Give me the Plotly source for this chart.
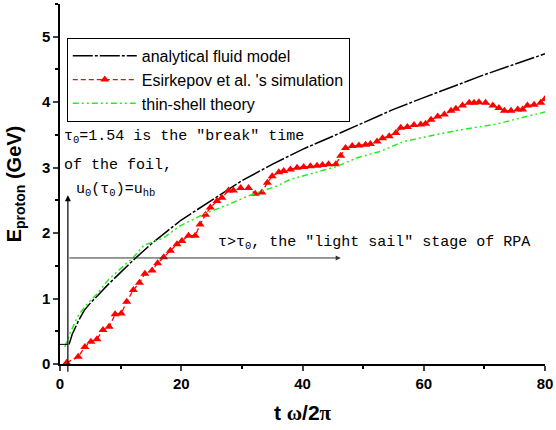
import plotly.graph_objects as go

# analytical fluid model
fluid_x = [1.5, 2, 3, 4, 5, 6, 8, 10, 12, 15, 20, 25, 30, 35, 40, 45, 50, 55, 60, 65, 70, 75, 80]
fluid_y = [0.30, 0.45, 0.65, 0.82, 0.93, 1.03, 1.22, 1.40, 1.58, 1.83, 2.20, 2.50, 2.80, 3.05, 3.28, 3.48, 3.69, 3.89, 4.07, 4.25, 4.42, 4.58, 4.74]

# Esirkepov et al.'s simulation
sim_x = [1.1, 3.0, 4.1, 5.1, 6.1, 7.1, 8.1, 9.1, 10.1, 11.0, 12.1, 13.1, 14.0, 15.2, 16.1, 17.1,
         18.2, 19.3, 20.1, 21.2, 22.3, 23.1, 24.0, 24.8, 25.9, 26.7, 27.8, 28.6, 29.8, 31.1, 32.2,
         33.3, 34.2, 35.0, 36.1, 36.9, 38.0, 39.1, 40.2, 41.3, 42.4, 43.3, 44.3, 45.5, 46.3, 47.1,
         48.2, 49.3, 50.4, 51.2, 52.3, 53.2, 54.3, 55.4, 56.2, 57.3, 58.4, 59.5, 60.3, 61.2, 62.3,
         63.4, 64.5, 65.3, 66.4, 67.5, 68.3, 69.1, 70.2, 71.4, 72.4, 73.3, 74.4, 75.5, 76.3, 77.1,
         78.2, 79.3, 80.0]
sim_y = [0.02, 0.11, 0.26, 0.34, 0.38, 0.52, 0.57, 0.76, 0.77, 0.95, 1.13, 1.24, 1.38, 1.43, 1.54, 1.63,
         1.73, 1.83, 1.88, 1.96, 1.96, 2.13, 2.28, 2.39, 2.49, 2.54, 2.65, 2.65, 2.69, 2.69, 2.60,
         2.62, 2.77, 2.87, 2.93, 2.95, 2.97, 3.00, 3.01, 3.02, 3.03, 3.04, 3.05, 3.05, 3.18, 3.30,
         3.33, 3.34, 3.35, 3.36, 3.40, 3.45, 3.48, 3.53, 3.61, 3.62, 3.65, 3.66, 3.67, 3.73, 3.78,
         3.81, 3.87, 3.90, 3.95, 3.99, 3.99, 4.00, 3.99, 3.95, 3.91, 3.87, 3.87, 3.89, 3.89, 3.95,
         3.96, 3.99, 4.05]

# thin-shell theory
shell_x = [0.8, 1.65, 3.0, 4.5, 6.1, 8.0, 9.9, 12.1, 13.8, 17.1, 19.8, 23.7, 27.6, 31.1, 35.8, 38.0,
           41.9, 45.7, 49.0, 52.9, 56.7, 60.6, 65.0, 68.9, 72.2, 76.0, 80.0]
shell_y = [0.26, 0.47, 0.74, 0.92, 1.07, 1.29, 1.45, 1.63, 1.81, 1.93, 2.11, 2.29, 2.43, 2.57, 2.72, 2.82,
           2.92, 3.02, 3.15, 3.25, 3.40, 3.48, 3.56, 3.62, 3.67, 3.76, 3.85]

x_ticks = [0, 20, 40, 60, 80]
y_ticks = [0, 1, 2, 3, 4, 5]

fig = go.Figure()
fig.add_trace(go.Scatter(x=fluid_x, y=fluid_y, mode="lines", name="analytical fluid model",
                         line=dict(color="black", width=1.5, dash="20px,2px,3px,2px")))
fig.add_trace(go.Scatter(x=sim_x, y=sim_y, mode="lines+markers", name="Esirkepov et al. 's simulation",
                         line=dict(color="red", width=1.3, dash="5px,3px"),
                         marker=dict(symbol="triangle-up", size=8, color="red")))
fig.add_trace(go.Scatter(x=shell_x, y=shell_y, mode="lines", name="thin-shell theory",
                         line=dict(color="#22ee22", width=1.5, dash="6px,3px,2px,3px,2px,3px")))

mono = "Liberation Mono, monospace"
ann_font = dict(family=mono, size=15, color="black")
annotations = [
    dict(x=0.4, y=3.47, text="τ<sub>0</sub>=1.54 is the ″break″ time", xanchor="left", yanchor="middle",
         showarrow=False, font=ann_font),
    dict(x=0.4, y=3.04, text="of the foil,", xanchor="left", yanchor="middle",
         showarrow=False, font=ann_font),
    dict(x=2.3, y=2.66, text="u<sub>0</sub>(τ<sub>0</sub>)=u<sub>hb</sub>", xanchor="left", yanchor="middle",
         showarrow=False, font=ann_font),
    dict(x=25.8, y=1.85, text="τ>τ<sub>0</sub>, the ″light sail″ stage of RPA", xanchor="left", yanchor="middle",
         showarrow=False, font=ann_font),
    # vertical arrow
    dict(x=1.3, y=2.58, ax=1.3, ay=-0.14, xref="x", yref="y", axref="x", ayref="y", text="",
         showarrow=True, arrowhead=2, arrowsize=1, arrowwidth=1.2, arrowcolor="black"),
    # horizontal arrow
    dict(x=46.3, y=1.62, ax=1.3, ay=1.62, xref="x", yref="y", axref="x", ayref="y", text="",
         showarrow=True, arrowhead=2, arrowsize=1, arrowwidth=1, arrowcolor="#333333"),
]

fig.add_shape(type="line", x0=-0.8, x1=1.3, y0=0.3, y1=0.3, line=dict(color="black", width=1))

fig.update_layout(
    width=556, height=430,
    margin=dict(l=60, r=11, t=4, b=66),
    paper_bgcolor="white", plot_bgcolor="white",
    font=dict(family="Arial, Liberation Sans, sans-serif", color="black"),
    annotations=annotations,
    showlegend=True,
    legend=dict(x=0.014, y=0.906, xanchor="left", yanchor="top",
                bordercolor="black", borderwidth=1, bgcolor="white",
                font=dict(family="Arial, Liberation Sans, sans-serif", size=16),
                itemwidth=64, tracegroupgap=0),
    xaxis=dict(range=[0, 80], tickvals=x_ticks, ticks="outside", ticklen=5, tickwidth=1.5,
               showline=True, linecolor="black", linewidth=1.5, showgrid=False, zeroline=False,
               automargin=False,
               tickfont=dict(family="Arial, sans-serif", size=15, weight="bold"),
               minor=dict(dtick=10, ticks="outside", ticklen=3, tickwidth=1.5, tickcolor="black"),
               title=dict(text="<b>t <span style=\"font-family:Liberation Serif\">ω</span>/2<span style=\"font-family:Liberation Serif\">π</span></b>",
                          font=dict(family="Arial, sans-serif", size=21))),
    yaxis=dict(range=[0, 5.5], tickvals=y_ticks, ticks="outside", ticklen=5, tickwidth=1.5,
               showline=True, linecolor="black", linewidth=1.5, showgrid=False, zeroline=False,
               automargin=False,
               tickfont=dict(family="Arial, sans-serif", size=15, weight="bold"),
               minor=dict(dtick=0.5, ticks="outside", ticklen=3, tickwidth=1.5, tickcolor="black"),
               title=dict(text="<b>E<sub>proton</sub> (GeV)</b>",
                          font=dict(family="Arial, sans-serif", size=20))),
)

fig.write_html("out.html", config={"displayModeBar": False},
               post_script="document.body.style.margin='0';")
